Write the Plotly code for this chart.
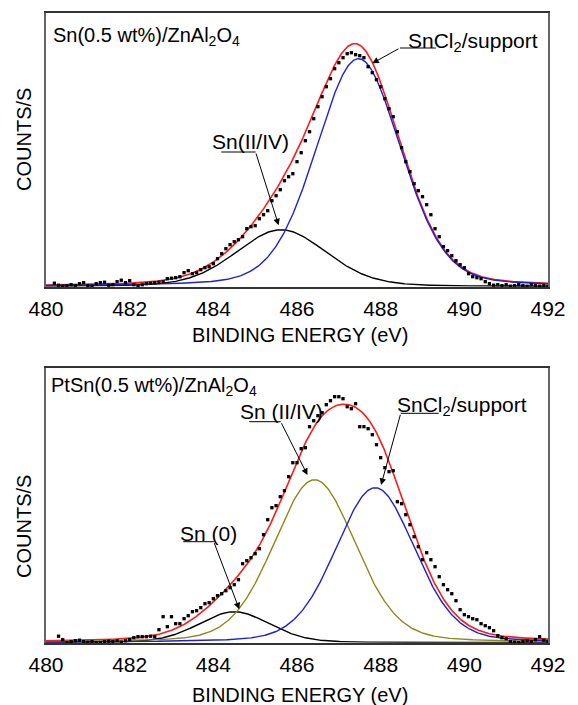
import numpy as np
import plotly.graph_objects as go

# ---------------- data ----------------
# energy grid (eV) for measured points: start and step
top_start, top_step = 480.2, 0.1
bot_start, bot_step = 480.3, 0.1

# measured XPS counts (arbitrary units), Sn(0.5 wt%)/ZnAl2O4
top_counts = [3.5, 1.5, 0.5, 1, 2, 1, 3, 4, 1, 0.5,
              3, 4, 4.5, 1.5, 2, 5, 6.5, 4, 6, 2,
              1, 2, 3, 3.5, 4, 4.5, 5, 8, 8.5, 9,
              10, 14, 16, 13, 14, 17, 19, 20, 23, 28,
              33, 38, 42, 45, 47, 50, 58, 60, 61, 68,
              72, 76, 86, 91, 97, 106, 110, 113, 125, 134,
              146, 155, 168, 180, 190, 200, 208, 218, 224, 229,
              233, 234, 232, 231, 229, 220, 214, 207, 200, 188,
              178, 170, 155, 139, 125, 115, 103, 96, 90, 82,
              72, 58, 50, 40, 36, 31, 26, 22, 19, 13,
              10, 9, 8, 5, 3, 1.5, 2, 1, 2, 0.5,
              1, 2, 1, 0.5, 2, 1, 0.5, 1, 0.5]

# measured XPS counts (arbitrary units), PtSn(0.5 wt%)/ZnAl2O4
bot_counts = [6.5, 3, 0, 1, 2, 2.5, 1, 0.5, 1, 0,
              0, 1, 1.5, 1, 2, 0.5, 2, 3, 5, 6,
              6, 6, 6.5, 6, 13, 26, 16, 26, 19, 19,
              24, 27, 31, 32, 35, 39, 40, 44, 47, 49,
              52, 55, 58, 63, 79, 82, 85, 89, 94, 108,
              123, 135, 137, 146, 152, 166, 180, 180, 194, 195,
              216, 222, 227, 230, 238, 242, 246, 246, 244, 236,
              234, 239, 216, 216, 214, 208, 198, 185, 175, 171,
              172, 141, 139, 128, 118, 106, 96, 83, 90, 83,
              76, 66, 58, 53, 49, 42, 33, 28, 26, 24,
              23, 19, 17, 15, 12, 7, 5, 4, 1, 0.5,
              0, 1, 2, 1, 3, 6, 2.5, 1]

# fitted components: centre (eV), height, FWHM (eV)
top_names = ["Sn(II/IV)", "SnCl2/support"]
top_centres = [485.62, 487.47]
top_heights = [57, 228]
top_fwhm = [2.55, 2.4]
top_colors = ["#000000", "#1f1fd6"]

bot_names = ["Sn (0)", "Sn (II/IV)", "SnCl2/support"]
bot_centres = [484.5, 486.42, 487.87]
bot_heights = [31, 163, 155]
bot_fwhm = [2.0, 2.32, 2.24]
bot_colors = ["#000000", "#8a8a1c", "#1f1fd6"]

lorentz_fraction = 0.2
sum_color = "#ff1a1a"
x_ticks = [480, 482, 484, 486, 488, 490, 492]

# ---------------- helpers ----------------
def pseudo_voigt(x, c, h, w, eta=lorentz_fraction):
    d2 = ((x - c) / (w / 2.0)) ** 2
    return h * ((1 - eta) * np.exp(-np.log(2) * d2) + eta / (1 + d2))

xfit = np.linspace(480, 492, 601)

W, H = 578, 705
ML, MR, MT, MB = 46, 18, 13, 62
PW, PH = W - ML - MR, H - MT - MB

def px(xp):
    return (xp - ML) / PW

def py(yp):
    return (H - MB - yp) / PH

FONT = "Arial, 'Liberation Sans', Helvetica, sans-serif"

fig = go.Figure()

panels = [
    ("x", "y", top_centres, top_heights, top_fwhm, top_colors, top_names, top_start, top_step, top_counts),
    ("x2", "y2", bot_centres, bot_heights, bot_fwhm, bot_colors, bot_names, bot_start, bot_step, bot_counts),
]
for xa, ya, cs, hs, ws, cols, names, st, sp, counts in panels:
    comps = [pseudo_voigt(xfit, c, h, w) for c, h, w in zip(cs, hs, ws)]
    fig.add_trace(go.Scatter(x=xfit, y=np.sum(comps, axis=0), mode="lines",
                             line=dict(color=sum_color, width=1.6),
                             xaxis=xa, yaxis=ya, name="fit", showlegend=False))
    for comp, col, nm in zip(comps, cols, names):
        fig.add_trace(go.Scatter(x=xfit, y=comp, mode="lines",
                                 line=dict(color=col, width=1.4),
                                 xaxis=xa, yaxis=ya, name=nm, showlegend=False))
    fig.add_trace(go.Scatter(x0=st, dx=sp, y=counts, mode="markers",
                             marker=dict(symbol="square", size=3.3, color="#000000"),
                             xaxis=xa, yaxis=ya, name="data", showlegend=False,
                             cliponaxis=False))

axis_common = dict(range=[480, 492], tickvals=x_ticks, showgrid=False, zeroline=False,
                   showline=True, mirror=True, linecolor="#333333", linewidth=1.5,
                   ticks="", ticklabelstandoff=2,
                   tickfont=dict(family=FONT, size=21, color="#000000"))
yaxis_common = dict(showticklabels=False, showgrid=False, zeroline=False, ticks="",
                    showline=True, mirror=True, linecolor="#666666", linewidth=1.5)

top_dom = [py(286.7), py(13.3)]
bot_dom = [py(642.7), py(367.5)]

fig.update_layout(
    width=W, height=H,
    margin=dict(l=ML, r=MR, t=MT, b=MB),
    paper_bgcolor="white", plot_bgcolor="white",
    font=dict(family=FONT, color="#000000"),
    xaxis=dict(anchor="y", domain=[0, 1], **axis_common),
    yaxis=dict(anchor="x", domain=top_dom, range=[0, 273.4], **yaxis_common),
    xaxis2=dict(anchor="y2", domain=[0, 1], **axis_common),
    yaxis2=dict(anchor="x2", domain=bot_dom, range=[0, 275.2], **yaxis_common),
)

ann = []
shapes = []
TF = dict(family=FONT, size=21, color="#000000")
HF = dict(family=FONT, size=20, color="#000000")

# titles / axis titles (paper coordinates)
ann.append(dict(text="Sn(0.5 wt%)/ZnAl<sub>2</sub>O<sub>4</sub>", xref="paper", yref="paper",
                x=px(51), y=py(37), xanchor="left", yanchor="middle", showarrow=False, font=HF))
ann.append(dict(text="PtSn(0.5 wt%)/ZnAl<sub>2</sub>O<sub>4</sub>", xref="paper", yref="paper",
                x=px(49), y=py(386), xanchor="left", yanchor="middle", showarrow=False, font=HF))
for ycen in (139, 526):
    ann.append(dict(text="COUNTS/S", xref="paper", yref="paper", x=px(23.4), y=py(ycen),
                    xanchor="center", yanchor="middle", textangle=-90, showarrow=False,
                    font=dict(family=FONT, size=20, color="#000000")))
for ycen in (335, 695):
    ann.append(dict(text="BINDING ENERGY (eV)", xref="paper", yref="paper", x=px(306), y=py(ycen),
                    xanchor="center", yanchor="middle", showarrow=False,
                    font=dict(family=FONT, size=20, color="#000000")))

# labelled arrows: (axis x, axis y, text, text x, text y, underline x0, x1, y, arrow start x, tip x, tip y)
labels = [
    ("x", "y", "Sn(II/IV)", 484.88, 145.0, 484.19, 485.01, 134.7, 485.01, 485.56, 61.5),
    ("x", "y", "SnCl<sub>2</sub>/support", 490.2, 245.0, 488.46, 489.32, 238.7, 488.46, 487.80, 223.4),
    ("x2", "y2", "Sn (II/IV)", 485.62, 231.0, 484.86, 485.61, 221.0, 485.61, 486.25, 167.7),
    ("x2", "y2", "Sn (0)", 483.88, 109.5, 483.28, 484.01, 101.0, 484.01, 484.62, 33.4),
    ("x2", "y2", "SnCl<sub>2</sub>/support", 489.95, 237.0, 488.48, 489.39, 229.4, 488.48, 488.01, 157.7),
]
for xa, ya, txt, tx, ty, u0, u1, uy, sx, tipx, tipy in labels:
    ann.append(dict(text=txt, xref=xa, yref=ya, x=tx, y=ty, xanchor="center", yanchor="middle",
                    showarrow=False, font=TF))
    shapes.append(dict(type="line", xref=xa, yref=ya, x0=u0, x1=u1, y0=uy, y1=uy,
                       line=dict(color="#000000", width=1)))
    ann.append(dict(text="", xref=xa, yref=ya, x=tipx, y=tipy, axref=xa, ayref=ya, ax=sx, ay=uy,
                    showarrow=True, arrowhead=2, arrowsize=1.3, arrowwidth=1, arrowcolor="#000000",
                    standoff=0, startstandoff=0))

fig.update_layout(annotations=ann, shapes=shapes)
fig.write_html("out.html")
